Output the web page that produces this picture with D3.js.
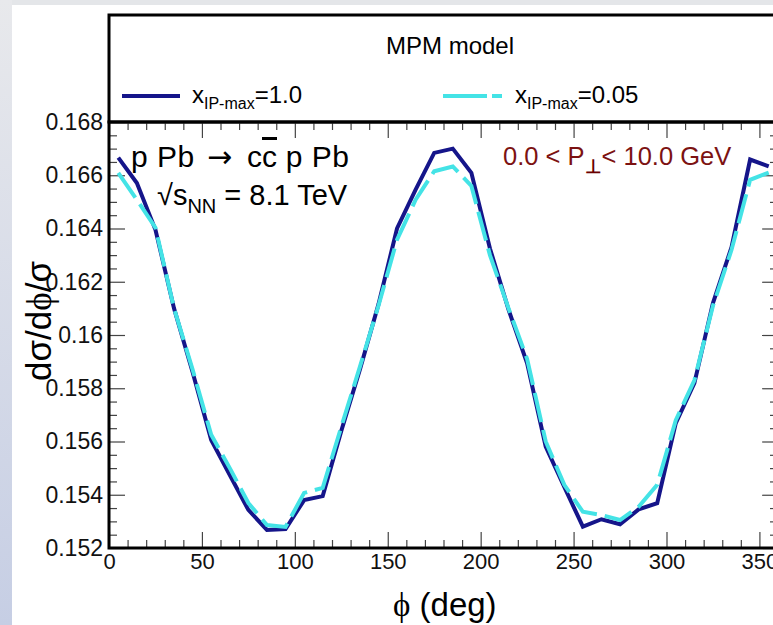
<!DOCTYPE html>
<html lang="en">
<head>
<meta charset="UTF-8">
<title>MPM model - dsigma/dphi</title>
<script src="https://d3js.org/d3.v7.min.js"></script>
<style>
    body { margin: 0; padding: 0; background: #ffffff; overflow: hidden; }
    svg { display: block; font-family: "Liberation Sans", Arial, sans-serif; }
    .frame { fill: none; stroke: #000; stroke-width: 3px; }
    .axis line { stroke: #444; stroke-width: 1.2px; }
    .axis path { display: none; }
    .solid { fill: none; stroke: #15158a; stroke-width: 4px; stroke-linejoin: miter; }
    .dashed { fill: none; stroke: #44e3e6; stroke-width: 4px; stroke-dasharray: 30 8; }
</style>
</head>
<body>
<svg id="canvas" width="773" height="625"></svg>
<script>
    // phi bin centres (deg)
    let phi = [5, 15, 25, 35, 45, 55, 65, 75, 85, 95, 105, 115, 125, 135, 145, 155, 165, 175,
               185, 195, 205, 215, 225, 235, 245, 255, 265, 275, 285, 295, 305, 315, 325, 335, 345, 355]
    // x_IP-max = 1.0
    let xip_1 = [0.16666, 0.16571, 0.16395, 0.16100, 0.15860, 0.15606, 0.15474, 0.15343, 0.15268,
                 0.15271, 0.15380, 0.15395, 0.15640, 0.15870, 0.16115, 0.16400, 0.16546, 0.16684,
                 0.16700, 0.16609, 0.16325, 0.16095, 0.15894, 0.15581, 0.15429, 0.15280, 0.15308,
                 0.15289, 0.15345, 0.15368, 0.15669, 0.15819, 0.16120, 0.16330, 0.16659, 0.16633]
    // x_IP-max = 0.05
    let xip_005 = [0.16609, 0.16508, 0.16403, 0.16100, 0.15870, 0.15625, 0.15500, 0.15369, 0.15286,
                   0.15279, 0.15407, 0.15426, 0.15655, 0.15880, 0.16110, 0.16358, 0.16508, 0.16615,
                   0.16633, 0.16560, 0.16300, 0.16100, 0.15910, 0.15600, 0.15437, 0.15336, 0.15324,
                   0.15305, 0.15355, 0.15437, 0.15680, 0.15830, 0.16110, 0.16320, 0.16583, 0.16610]
    let xTicks = [0, 50, 100, 150, 200, 250, 300, 350]
    let yTicks = [0.152, 0.154, 0.156, 0.158, 0.16, 0.162, 0.164, 0.166, 0.168]
    let yTickLabels = ["0.152", "0.154", "0.156", "0.158", "0.16", "0.162", "0.164", "0.166", "0.168"]

    let svg = d3.select('#canvas')
    let pLeft = 109, pRight = 778, pTop = 122, pBottom = 548

    // window chrome
    let defs = svg.append('defs')
    let grad = defs.append('linearGradient').attr('id', 'side').attr('x1', 0).attr('y1', 0).attr('x2', 0).attr('y2', 1)
    grad.append('stop').attr('offset', '0%').attr('stop-color', '#e8e9ec')
    grad.append('stop').attr('offset', '100%').attr('stop-color', '#c6cee4')
    svg.append('rect').attr('x', 0).attr('y', 0).attr('width', 773).attr('height', 625).attr('fill', '#fff')
    svg.append('rect').attr('x', 0).attr('y', 0).attr('width', 773).attr('height', 5).attr('fill', '#e4e6e9')
    svg.append('rect').attr('x', 0).attr('y', 0).attr('width', 12).attr('height', 625).attr('fill', 'url(#side)')

    defs.append('clipPath').attr('id', 'plotclip')
        .append('rect').attr('x', pLeft).attr('y', pTop).attr('width', pRight - pLeft).attr('height', pBottom - pTop)

    let xScale = d3.scaleLinear().domain([0, 360]).range([pLeft, pRight])
    let yScale = d3.scaleLinear().domain([0.152, 0.168]).range([pBottom, pTop])

    // legend box
    let legend = svg.append('g')
    legend.append('rect').attr('class', 'frame').attr('x', pLeft).attr('y', 15).attr('width', 700).attr('height', pTop - 15)
    legend.append('text').attr('x', 450).attr('y', 54).attr('text-anchor', 'middle')
        .attr('font-size', 24).text('MPM model')
    legend.append('line').attr('x1', 122).attr('x2', 180).attr('y1', 96).attr('y2', 96)
        .attr('stroke', '#15158a').attr('stroke-width', 4)
    legend.append('line').attr('x1', 443).attr('x2', 502).attr('y1', 96).attr('y2', 96)
        .attr('stroke', '#44e3e6').attr('stroke-width', 4).attr('stroke-dasharray', '44 5')
    function legendLabel(x, val) {
        let t = legend.append('text').attr('x', x).attr('y', 103).attr('font-size', 24)
        t.append('tspan').text('x')
        t.append('tspan').attr('font-size', 16).attr('dy', 6).text('IP-max')
        t.append('tspan').attr('dy', -6).text('=' + val)
    }
    legendLabel(192, '1.0')
    legendLabel(515, '0.05')

    // minor ticks
    let xMinor = d3.range(0, 361, 10).filter(d => d % 50 !== 0)
    let yMinor = d3.range(0.152, 0.1681, 0.0005).filter(d => Math.abs(Math.round(d * 500) - d * 500) > 0.01)
    function axes(vals, len, fmtX, fmtY) {
        svg.append('g').attr('class', 'axis').attr('transform', `translate(0,${pBottom})`)
            .call(d3.axisBottom(xScale).tickValues(vals.x).tickSize(-len).tickPadding(5).tickFormat(fmtX))
            .attr('font-size', 22).attr('font-family', 'Liberation Sans, Arial, sans-serif')
        svg.append('g').attr('class', 'axis').attr('transform', `translate(0,${pTop})`)
            .call(d3.axisTop(xScale).tickValues(vals.x).tickSize(-len).tickFormat(''))
        svg.append('g').attr('class', 'axis').attr('transform', `translate(${pLeft},0)`)
            .call(d3.axisLeft(yScale).tickValues(vals.y).tickSize(-len).tickPadding(6).tickFormat(fmtY))
            .attr('font-size', 23).attr('font-family', 'Liberation Sans, Arial, sans-serif')
        svg.append('g').attr('class', 'axis').attr('transform', `translate(${pRight},0)`)
            .call(d3.axisRight(yScale).tickValues(vals.y).tickSize(-len).tickFormat(''))
    }
    axes({x: xMinor, y: yMinor}, 8, '', '')
    axes({x: xTicks, y: yTicks}, 16, d => d, (d, i) => yTickLabels[i])
    svg.selectAll('.axis text').attr('fill', '#111')

    // curves
    let lineGen = d3.line().x((d, i) => xScale(phi[i])).y(d => yScale(d))
    let plot = svg.append('g').attr('clip-path', 'url(#plotclip)')
    plot.append('path').attr('class', 'solid').attr('d', lineGen(xip_1))
    plot.append('path').attr('class', 'dashed').attr('d', lineGen(xip_005))

    // plot frame
    svg.append('rect').attr('class', 'frame').attr('x', pLeft).attr('y', pTop)
        .attr('width', pRight - pLeft).attr('height', pBottom - pTop)

    // annotations
    let proc = svg.append('text').attr('y', 167).attr('font-size', 30)
    proc.append('tspan').attr('x', 131).attr('letter-spacing', 0.5).text('p Pb')
    proc.append('tspan').attr('x', 207).attr('font-family', 'DejaVu Sans, sans-serif').attr('font-size', 30).text('\u2192')
    proc.append('tspan').attr('x', 247).text('c')
    proc.append('tspan').attr('text-decoration', 'overline').text('c')
    proc.append('tspan').attr('letter-spacing', 0.5).text(' p Pb')

    let sq = svg.append('text').attr('x', 157).attr('y', 205).attr('font-size', 29)
    sq.append('tspan').text('\u221As')
    sq.append('tspan').attr('font-size', 20).attr('dy', 8).text('NN')
    sq.append('tspan').attr('dy', -8).text(' = 8.1 TeV')

    let pt = svg.append('text').attr('x', 503).attr('y', 165).attr('font-size', 25.5).attr('fill', '#7c1212')
    pt.append('tspan').text('0.0 < P')
    pt.append('tspan').attr('font-size', 19).attr('dy', 8).attr('font-weight', 'bold').attr('fill', '#6a0000').text('\u22A5')
    pt.append('tspan').attr('dy', -8).text('< 10.0 GeV')

    // axis titles
    let xt = svg.append('text').attr('x', 393).attr('y', 616).attr('font-size', 33)
    xt.append('tspan').attr('font-family', 'Liberation Serif, serif').text('\u03D5')
    xt.append('tspan').text(' (deg)')

    let yt = svg.append('text').attr('transform', 'translate(51,321) rotate(-90)').attr('text-anchor', 'middle')
        .attr('font-size', 35)
    yt.append('tspan').text('d\u03C3/d')
    yt.append('tspan').attr('font-family', 'Liberation Serif, serif').text('\u03D5')
    yt.append('tspan').text('/\u03C3')
</script>
</body>
</html>
